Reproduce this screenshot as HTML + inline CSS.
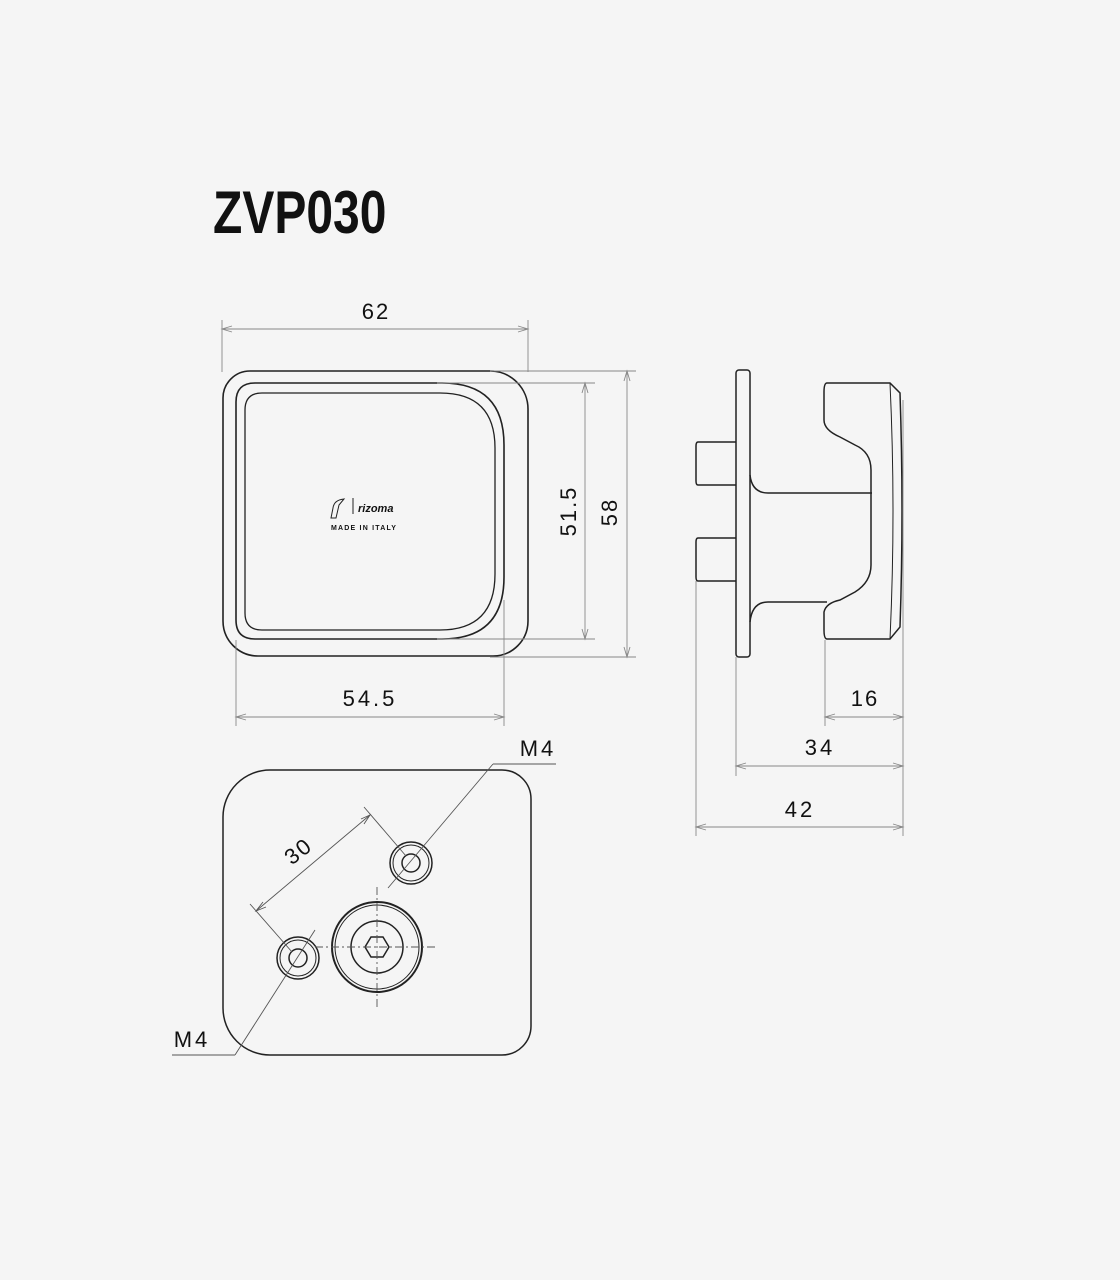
<!DOCTYPE html>
<html><head><meta charset="utf-8"><style>
html,body{margin:0;padding:0;background:#f5f5f5;}
svg{display:block;}
text{font-family:"Liberation Sans",sans-serif;fill:#111;}
</style></head><body>
<svg width="1120" height="1280" viewBox="0 0 1120 1280" xmlns="http://www.w3.org/2000/svg">
<rect width="1120" height="1280" fill="#f5f5f5"/>
<text x="0" y="233" font-size="60" font-weight="bold" transform="translate(213,0) scale(0.80,1)">ZVP030</text>

<!-- Top view -->
<g fill="none" stroke="#222" stroke-width="1.6">
<path d="M250 371 H490 A38 38 0 0 1 528 409 V621 A35 35 0 0 1 493 656 H258 A35 35 0 0 1 223 621 V398 A27 27 0 0 1 250 371 Z"/>
<path d="M255 383 H442 Q504 383 504 445 V577 Q504 639 442 639 H255 Q236 639 236 620 V402 Q236 383 255 383 Z"/>
<path d="M262 393 H440 Q495 393 495 448 V574 Q495 630 440 630 H262 Q245 630 245 613 V410 Q245 393 262 393 Z" stroke-width="1.3"/>
</g>
<g stroke="#888" stroke-width="0.9" fill="none">
<line x1="222" y1="320" x2="222" y2="372"/><line x1="528" y1="320" x2="528" y2="372"/>
<line x1="222" y1="329" x2="528" y2="329"/>
<line x1="437" y1="383" x2="595" y2="383"/><line x1="437" y1="639" x2="595" y2="639"/>
<line x1="585" y1="383" x2="585" y2="639"/>
<line x1="490" y1="371" x2="636" y2="371"/><line x1="490" y1="657" x2="636" y2="657"/>
<line x1="627" y1="371" x2="627" y2="657"/>
<line x1="236" y1="640" x2="236" y2="726"/><line x1="504" y1="600" x2="504" y2="726"/>
<line x1="236" y1="717" x2="504" y2="717"/>
<path d="M232 326 L222 329 L232 332 M518 326 L528 329 L518 332 M582 393 L585 383 L588 393 M582 629 L585 639 L588 629 M624 381 L627 371 L630 381 M624 647 L627 657 L630 647 M246 714 L236 717 L246 720 M494 714 L504 717 L494 720"/>
</g>
<text x="376" y="319" font-size="22" text-anchor="middle" letter-spacing="2">62</text>
<text x="0" y="0" font-size="22" text-anchor="middle" letter-spacing="2" transform="translate(576,511) rotate(-90)">51.5</text>
<text x="0" y="0" font-size="22" text-anchor="middle" letter-spacing="2" transform="translate(617,512) rotate(-90)">58</text>
<text x="370" y="706" font-size="22" text-anchor="middle" letter-spacing="3">54.5</text>
<path d="M333 508 Q334 500 344 499 L339 505 L336 518 L331 518 Z" fill="none" stroke="#222" stroke-width="1"/>
<line x1="353" y1="498" x2="353" y2="514" stroke="#222" stroke-width="1"/>
<text x="358" y="512" font-size="11" font-style="italic" font-weight="bold">rizoma</text>
<text x="331" y="530" font-size="7" font-weight="bold" letter-spacing="1.2">MADE IN ITALY</text>

<!-- Side view -->
<g fill="none" stroke="#222" stroke-width="1.5">
<rect x="736" y="370" width="14" height="287" rx="3"/>
<path d="M736 442 H698 Q696 442 696 446 V481 Q696 485 698 485 H736"/>
<path d="M736 538 H698 Q696 538 696 542 V577 Q696 581 698 581 H736"/>
<path d="M750 475 Q752 493 768 493 H872"/>
<path d="M750 622 Q752 602 768 602 H827"/>
<path d="M827 383 H890 L900 393 Q904 511 900 627 L890 639 H827 Q824 639 824 630 V612 Q826 603 840 600 L855 592 Q871 582 871 565 V470 Q871 452 855 445 L840 437 Q824 430 824 420 V392 Q824 383 827 383 Z"/>
<path d="M890 383 Q896 511 890 639" stroke-width="1"/>
</g>
<g stroke="#888" stroke-width="0.9" fill="none">
<line x1="825" y1="640" x2="825" y2="726"/><line x1="903" y1="400" x2="903" y2="836"/>
<line x1="736" y1="657" x2="736" y2="776"/><line x1="696" y1="581" x2="696" y2="836"/>
<line x1="825" y1="717" x2="903" y2="717"/>
<line x1="736" y1="766" x2="903" y2="766"/>
<line x1="696" y1="827" x2="903" y2="827"/>
<path d="M835 714 L825 717 L835 720 M893 714 L903 717 L893 720 M746 763 L736 766 L746 769 M893 763 L903 766 L893 769 M706 824 L696 827 L706 830 M893 824 L903 827 L893 830"/>
</g>
<text x="865" y="706" font-size="22" text-anchor="middle" letter-spacing="2">16</text>
<text x="820" y="755" font-size="22" text-anchor="middle" letter-spacing="3">34</text>
<text x="800" y="817" font-size="22" text-anchor="middle" letter-spacing="3">42</text>

<!-- Bottom view -->
<g fill="none" stroke="#222" stroke-width="1.5">
<path d="M270 770 H502 A29 29 0 0 1 531 799 V1026 A29 29 0 0 1 502 1055 H270 A47 47 0 0 1 223 1008 V817 A47 47 0 0 1 270 770 Z"/>
<circle cx="377" cy="947" r="45" stroke-width="2"/>
<circle cx="377" cy="947" r="42" stroke-width="1"/>
<circle cx="377" cy="947" r="26"/>
<polygon points="389,947 383,957 371,957 365,947 371,937 383,937"/>
<circle cx="411" cy="863" r="21"/><circle cx="411" cy="863" r="18" stroke-width="1"/>
<circle cx="411" cy="863" r="9"/>
<circle cx="298" cy="958" r="21"/><circle cx="298" cy="958" r="18" stroke-width="1"/>
<circle cx="298" cy="958" r="9"/>
</g>
<g stroke="#555" stroke-width="0.9" fill="none">
<line x1="377" y1="887" x2="377" y2="1008" stroke-dasharray="8,3,2,3"/>
<line x1="315" y1="947" x2="437" y2="947" stroke-dasharray="8,3,2,3"/>
<line x1="256" y1="911" x2="370" y2="815"/>
<line x1="250" y1="904" x2="292" y2="952"/>
<line x1="364" y1="807" x2="406" y2="856"/>
<path d="M263 902 L256 911 L266 907 M361 819 L370 815 L364 824"/>
<line x1="388" y1="888" x2="493" y2="764"/><line x1="493" y1="764" x2="556" y2="764"/>
<line x1="315" y1="930" x2="235" y2="1055"/><line x1="235" y1="1055" x2="172" y2="1055"/>
</g>
<text x="0" y="0" font-size="22" text-anchor="middle" letter-spacing="2" transform="translate(303,857) rotate(-38)">30</text>
<text x="538" y="756" font-size="22" text-anchor="middle" letter-spacing="3">M4</text>
<text x="192" y="1047" font-size="22" text-anchor="middle" letter-spacing="3">M4</text>
</svg>
</body></html>
